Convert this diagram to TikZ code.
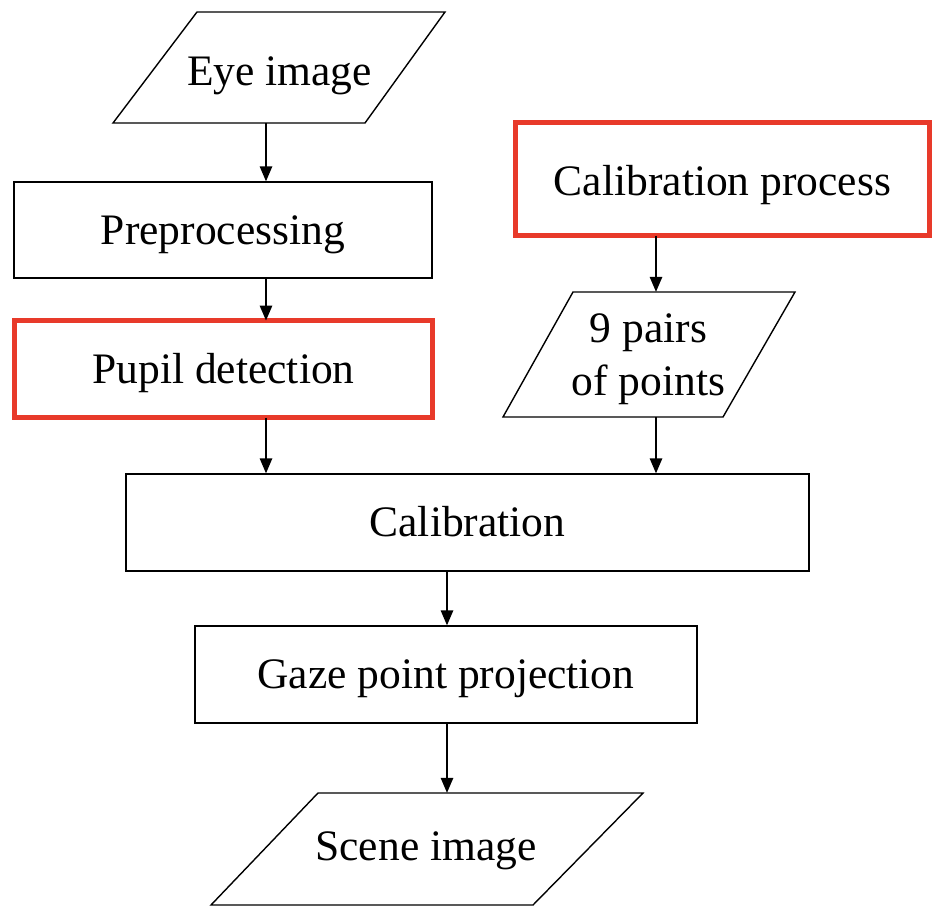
\documentclass[tikz,border=0pt]{standalone}
\usepackage{fontspec}
\setmainfont{Liberation Serif}
\usetikzlibrary{arrows.meta}
\definecolor{boxred}{RGB}{232,58,42}
\tikzset{
  txt/.style={font=\fontsize{43.5}{53}\selectfont, align=center, inner sep=0pt},
  boxtxt/.style={txt, text height=30pt, text depth=2pt},
  proc/.style={boxtxt, draw=black, line width=1.4pt, rectangle},
  hproc/.style={boxtxt, draw=boxred, line width=5pt, rectangle},
  iobox/.style={inner sep=0pt, rectangle},
  outline/.style={draw=black, line width=1.4pt, line join=miter},
  arr/.style={draw=black, line width=1.4pt, -{Triangle[length=15pt,width=12.5pt]}}
}
\begin{document}
\begin{tikzpicture}[x=1pt,y=-1pt]
\useasboundingbox (0,0) rectangle (932,906);
% input / output shapes
\node[iobox, minimum width=336pt, minimum height=111pt] (eye) at (281,67.5) {};
\draw[outline] (113,123) -- (365,123) -- (445,12) -- (197,12) -- cycle;
\node[txt, anchor=base] (eyet) at (279.5,85) {Eye image};

\node[iobox, minimum width=292pt, minimum height=125pt] (pairs) at (649,354.5) {};
\draw[outline] (503,417) -- (723,417) -- (795,292) -- (573,292) -- cycle;
\node[txt, anchor=base] (pairst) at (648.5,395) {9 pairs\\of points};

\node[iobox, minimum width=432pt, minimum height=112pt] (scene) at (427,849) {};
\draw[outline] (211,905) -- (533,905) -- (643,793) -- (318,793) -- cycle;
\node[txt, anchor=base] (scenet) at (426,860) {Scene image};

% process boxes
\node[proc, minimum width=418pt, minimum height=96pt] (pre) at (223,230) {Preprocessing};
\node[hproc, minimum width=418pt, minimum height=97pt] (pupil) at (223.5,369) {Pupil detection};
\node[hproc, minimum width=414pt, minimum height=113pt, text height=32pt, text depth=0pt] (calproc) at (722.5,179) {Calibration process};
\node[proc, minimum width=683pt, minimum height=97pt] (cal) at (467.5,522.5) {Calibration};
\node[proc, minimum width=502pt, minimum height=97pt] (gaze) at (446,674.5) {Gaze point projection};

% connector columns
\coordinate (c1) at (266,0);
\coordinate (c2) at (656,0);
\coordinate (c3) at (447,0);

\draw[arr] (eye.south -| c1) -- (pre.north -| c1);
\draw[arr] (pre.south -| c1) -- ([yshift=-2.5pt]pupil.north -| c1);
\draw[arr] ([yshift=2.5pt]pupil.south -| c1) -- (cal.north -| c1);
\draw[arr] ([yshift=2.5pt]calproc.south -| c2) -- (pairs.north -| c2);
\draw[arr] (pairs.south -| c2) -- (cal.north -| c2);
\draw[arr] (cal.south -| c3) -- (gaze.north -| c3);
\draw[arr] (gaze.south -| c3) -- (scene.north -| c3);
\end{tikzpicture}
\end{document}
